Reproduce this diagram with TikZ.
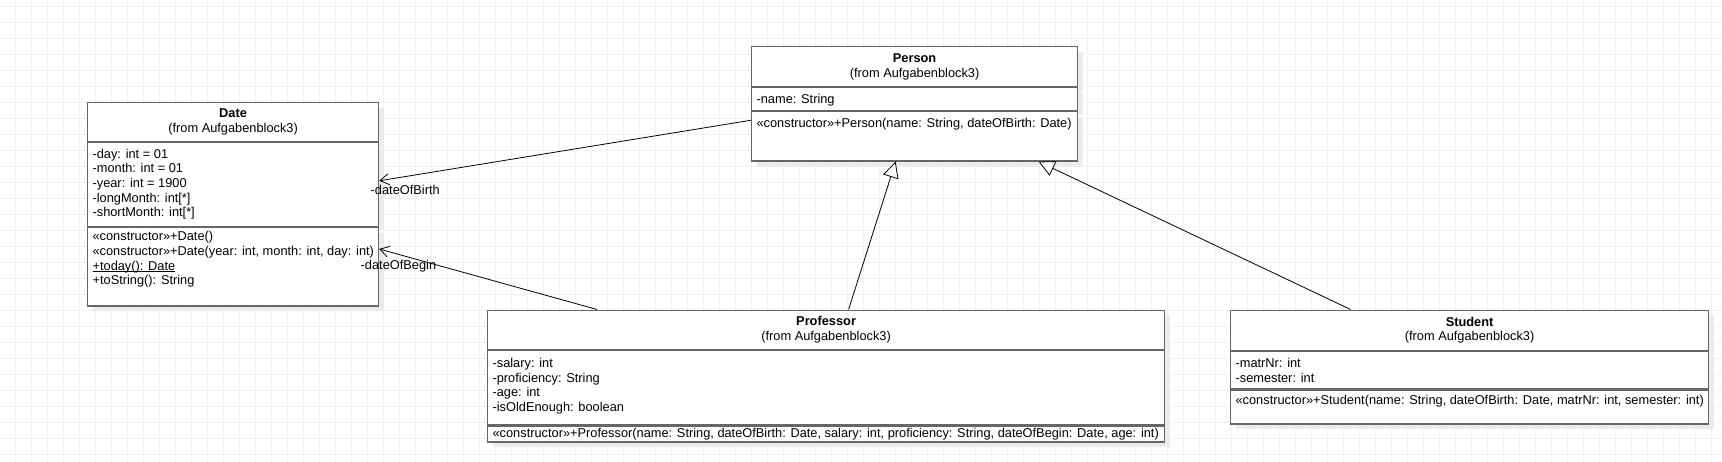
\documentclass[tikz,border=0pt]{standalone}
\usepackage{fontspec}
\setmainfont{Liberation Sans}
\usetikzlibrary{positioning,arrows.meta,shadows}

% compartment text, top aligned: [top gap]{width}{height}{lines}
\newcommand{\members}[4][5pt]{%
  \parbox[t][#3][t]{#2}{\vspace*{#1}\begin{tabular}[t]{@{}l@{}}#4\end{tabular}}}
% underlined (static) operation
\newcommand{\staticop}[1]{\sbox0{#1}\rlap{\rule[-2.2pt]{\wd0}{0.9pt}}\usebox0}

\begin{document}
\begin{tikzpicture}[
        x=1pt, y=-1pt,
        font=\fontsize{12.8}{14.7}\selectfont,
        gridline/.style={draw=black!6, line width=1pt},
        umlbox/.style={draw=black!60, line width=1.2pt, fill=white,
            drop shadow={shadow xshift=5pt, shadow yshift=-5pt, fill=black!8, opacity=1}},
        classhead/.style={umlbox, anchor=north west, align=center, inner sep=0pt},
        compartment/.style={umlbox, inner xsep=5pt, inner ysep=0pt},
        assoc/.style={-{Straight Barb[length=9pt, width=11pt]}, line width=0.8pt},
        inherit/.style={-{Triangle[open, fill=white, length=16pt, width=16pt]}, line width=0.8pt},
        role/.style={anchor=west, inner sep=0pt}
    ]

    % background grid
    \useasboundingbox (0,0) rectangle (1722,461);
    \fill[white] (0,0) rectangle (1722,461);
    \foreach \x in {15,31,...,1711}
        \draw[gridline] (\x,0) -- (\x,461);
    \foreach \y in {6,22,...,454}
        \draw[gridline] (0,\y) -- (1722,\y);

    % Date
    \node[classhead, minimum width=291pt, minimum height=39pt] (date) at (87,102)
        {\textbf{Date}\\(from Aufgabenblock3)};
    \node[compartment, below=0pt of date] (dateattr)
        {\members[5pt]{281pt}{83.5pt}{-day: int = 01\\-month: int = 01\\-year: int = 1900\\-longMonth: int[*]\\-shortMonth: int[*]}};
    \node[compartment, below=0pt of dateattr] (dateops)
        {\members[3pt]{281pt}{78.5pt}{«constructor»+Date()\\«constructor»+Date(year: int, month: int, day: int)\\\staticop{+today(): Date}\\+toString(): String}};

    % Person
    \node[classhead, minimum width=326pt, minimum height=40pt] (person) at (751,46)
        {\textbf{Person}\\(from Aufgabenblock3)};
    \node[compartment, below=0pt of person] (personattr)
        {\members[5pt]{316pt}{22.5pt}{-name: String}};
    \node[compartment, below=0pt of personattr] (personops)
        {\members[5.5pt]{316pt}{49.5pt}{«constructor»+Person(name: String, dateOfBirth: Date)}};

    % Professor
    \node[classhead, minimum width=677pt, minimum height=39.5pt] (prof) at (487,309.5)
        {\textbf{Professor}\\(from Aufgabenblock3)};
    \node[compartment, below=0pt of prof] (profattr)
        {\members[6.4pt]{667pt}{74pt}{-salary: int\\-proficiency: String\\-age: int\\-isOldEnough: boolean}};
    \node[compartment, below=0pt of profattr] (profops)
        {\members[1.4pt]{667pt}{16pt}{«constructor»+Professor(name: String, dateOfBirth: Date, salary: int, proficiency: String, dateOfBegin: Date, age: int)}};

    % Student
    \node[classhead, minimum width=478pt, minimum height=40pt] (stud) at (1230,309.5)
        {\textbf{Student}\\(from Aufgabenblock3)};
    \node[compartment, below=0pt of stud] (studattr)
        {\members[6.4pt]{468pt}{37.5pt}{-matrNr: int\\-semester: int}};
    \node[compartment, below=0pt of studattr] (studops)
        {\members[4.4pt]{468pt}{34pt}{«constructor»+Student(name: String, dateOfBirth: Date, matrNr: int, semester: int)}};

    % associations
    \draw[assoc] ([yshift=16pt]personops.west) -- ([yshift=3.75pt]dateattr.east);
    \draw[assoc] ([xshift=-229pt]prof.north) -- ([yshift=17.75pt]dateops.east);
    \node[role] (birthrole) at (370.5,190) {-dateOfBirth};
    \node[role] (beginrole) at (360.5,266) {-dateOfBegin};

    % generalizations
    \draw[inherit] ([xshift=22.5pt]prof.north) -- ([xshift=-19pt]personops.south);
    \draw[inherit] ([xshift=-119pt]stud.north) -- ([xshift=124pt]personops.south);

\end{tikzpicture}
\end{document}
